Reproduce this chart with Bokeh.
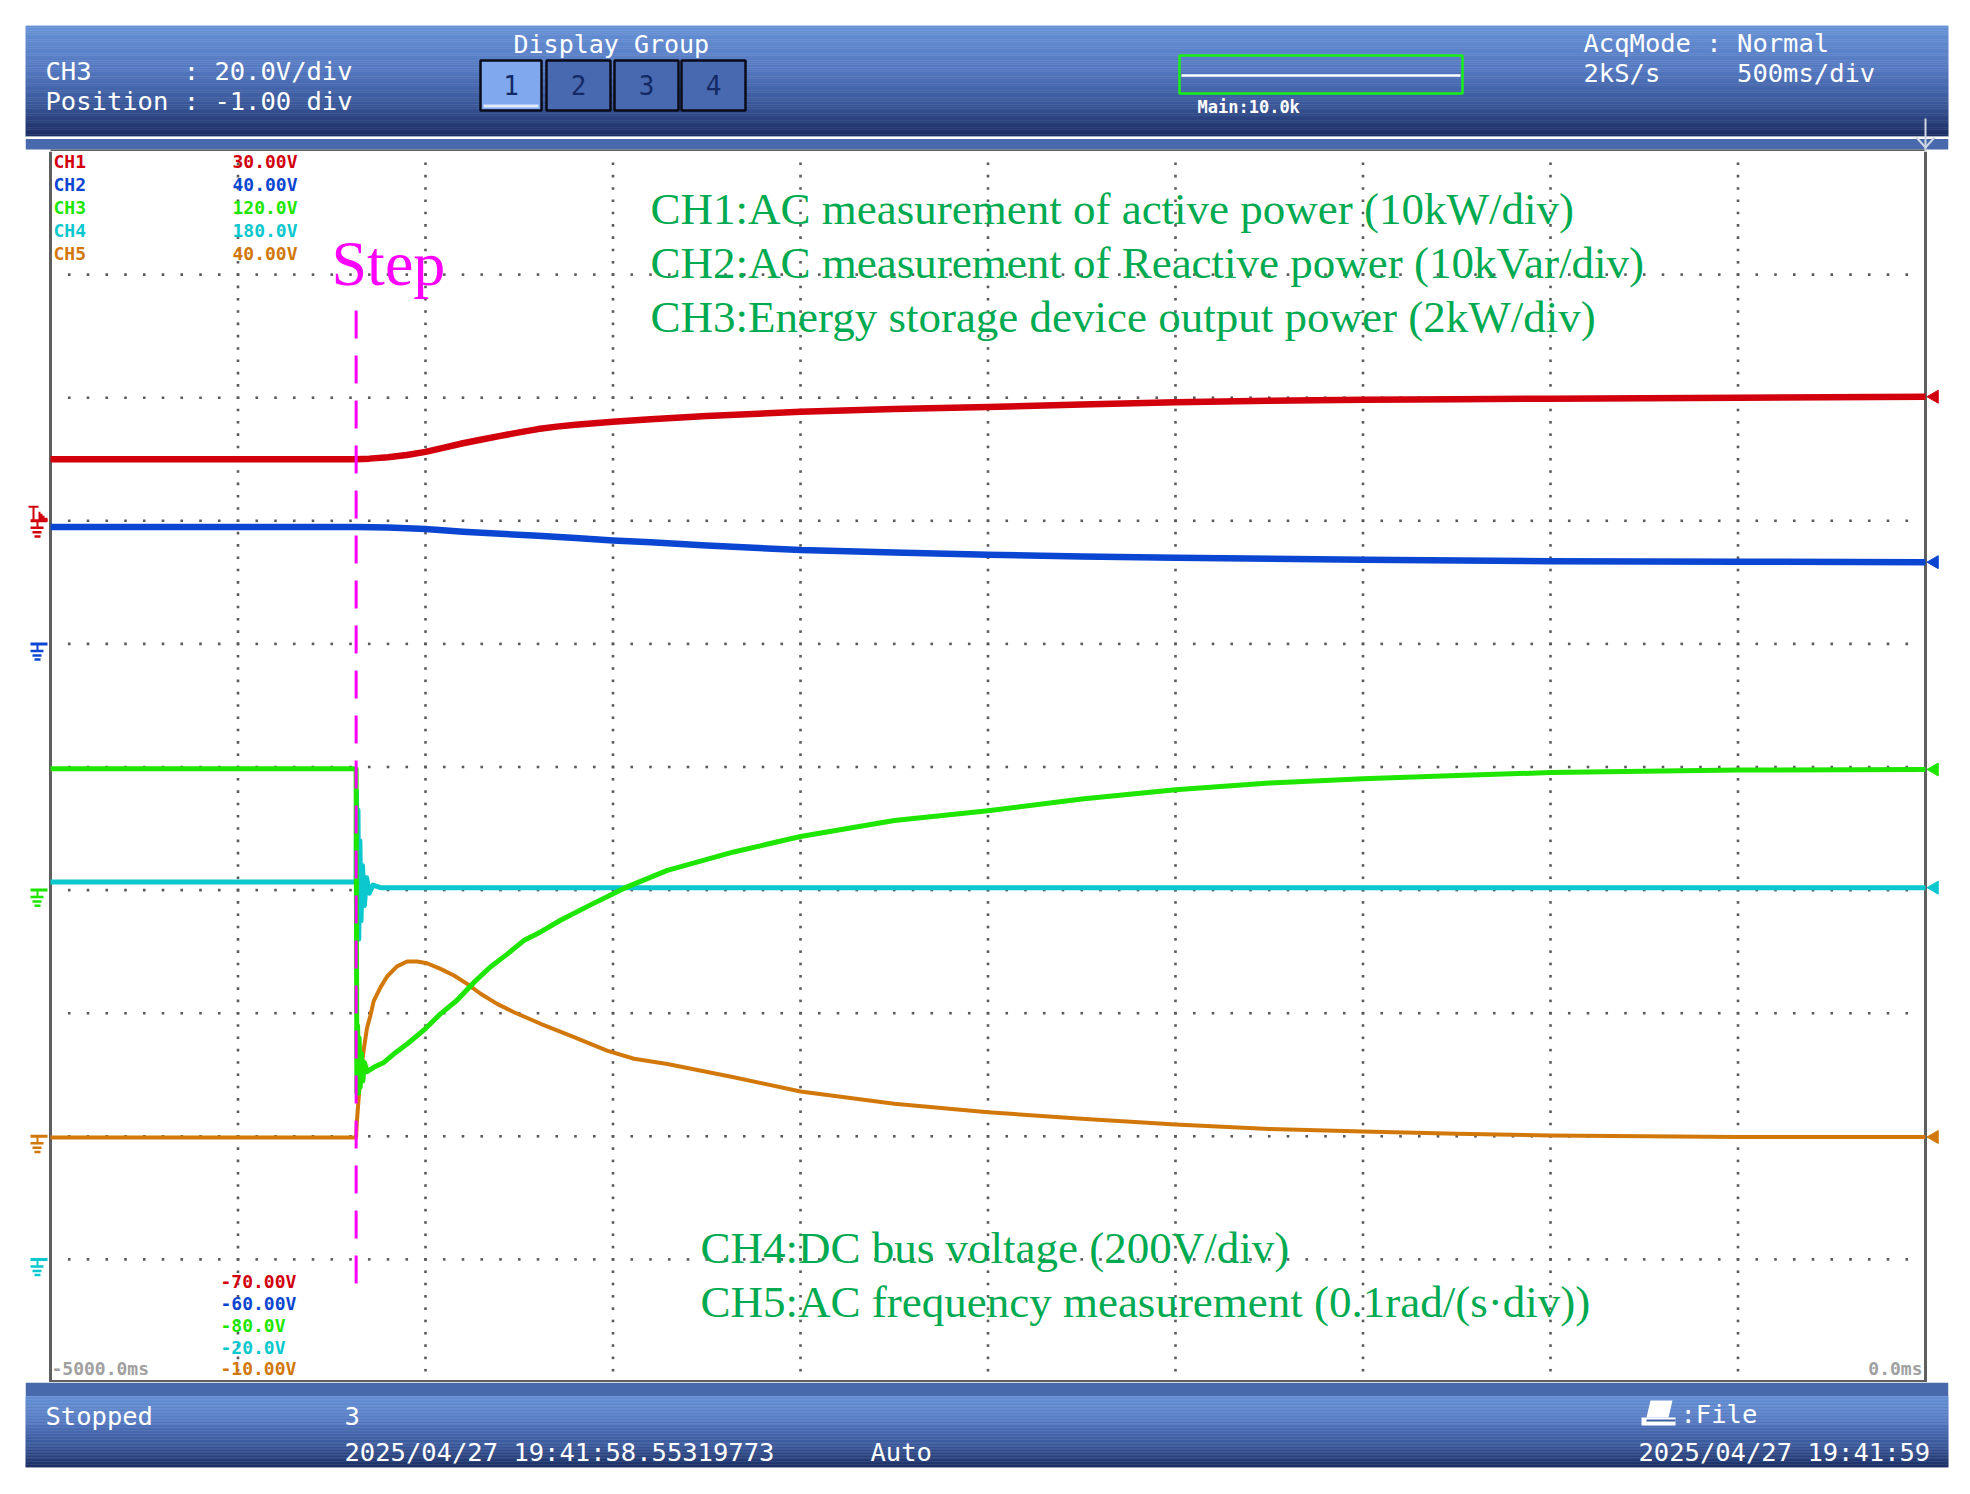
import numpy as np
from bokeh.plotting import figure
from bokeh.models import Range1d
from bokeh.layouts import column
from bokeh.core.properties import value
from bokeh.embed import file_html
from bokeh.resources import INLINE

# ---------------- data ----------------
t_start, t_end = -5000, 0          # ms (500 ms/div)
step_time = -4185                  # ms

ch_names = ["CH1", "CH2", "CH3", "CH4", "CH5"]
ch_colors = ["#d2000c", "#0a46d2", "#1ee600", "#0ac8cd", "#d2780a"]
ch_top_labels = ["30.00V", "40.00V", "120.0V", "180.0V", "40.00V"]
ch_bottom_labels = ["-70.00V", "-60.00V", "-80.0V", "-20.0V", "-10.00V"]
ch_lo = [-70, -60, -80, -20, -10]
ch_hi = [30, 40, 120, 180, 40]

ch1_t = [-5000, -4185, -4150, -4100, -4050, -4000, -3950, -3900, -3850, -3800, -3750, -3700,
         -3650, -3600, -3500, -3400, -3250, -3000, -2750, -2500, -2250, -2000, -1750, -1500,
         -1250, -1000, -500, 0]
ch1_v = [5.0, 5.0, 5.05, 5.17, 5.35, 5.6, 5.95, 6.3, 6.6, 6.9, 7.18, 7.45,
         7.65, 7.8, 8.05, 8.25, 8.52, 8.85, 9.08, 9.25, 9.45, 9.63, 9.75, 9.83,
         9.88, 9.92, 9.99, 10.08]

ch2_t = [-5000, -4185, -4100, -4000, -3900, -3800, -3700, -3600, -3500, -3400, -3250, -3000,
         -2750, -2500, -2250, -2000, -1500, -1000, -500, 0]
ch2_v = [9.5, 9.5, 9.45, 9.33, 9.12, 8.95, 8.78, 8.6, 8.4, 8.25, 8.0, 7.62,
         7.42, 7.24, 7.1, 6.99, 6.83, 6.72, 6.68, 6.64]

ch3_t = [-5000, -4185, -4183, -4181, -4179, -4177, -4174, -4171, -4167, -4163, -4156, -4138,
         -4111, -4084, -4049, -4000, -3960, -3916, -3871, -3827, -3782, -3738, -3693, -3640,
         -3560, -3467, -3355, -3178, -3000, -2750, -2500, -2250, -2000, -1750, -1500, -1250,
         -1000, -500, 0]
ch3_v = [19.7, 19.7, -33, -22, -33, -24, -32, -26.5, -31, -28, -29.5, -28.8,
         -28.0, -26.6, -25.0, -22.5, -20.1, -17.9, -15.0, -12.5, -10.4, -8.2, -6.8, -4.9,
         -2.4, 0.4, 3.2, 6.2, 8.7, 11.3, 12.9, 14.8, 16.3, 17.4, 18.1, 18.6,
         19.1, 19.5, 19.6]

ch4_t = [-5000, -4185, -4184, -4182, -4180, -4178, -4175, -4172, -4168, -4163, -4157, -4150,
         -4140, -4120, -2000, 0]
ch4_v = [61.3, 61.3, 76, 53, 73, 52, 68, 55, 64, 57.5, 62, 59.5,
         60.8, 60.4, 60.4, 60.4]

ch5_t = [-5000, -4185, -4183, -4180, -4176, -4170, -4164, -4156, -4147, -4138, -4120, -4102,
         -4076, -4049, -4022, -3996, -3960, -3924, -3889, -3853, -3809, -3764, -3693, -3604,
         -3516, -3444, -3355, -3178, -3000, -2750, -2500, -2250, -2000, -1750, -1500, -1250,
         -1000, -500, 0]
ch5_v = [-0.05, -0.05, 0.6, 1.2, 2.0, 2.9, 3.6, 4.4, 4.9, 5.5, 6.05, 6.5,
         6.9, 7.1, 7.1, 7.03, 6.8, 6.53, 6.19, 5.79, 5.38, 5.04, 4.57, 4.03,
         3.48, 3.15, 2.94, 2.4, 1.82, 1.32, 0.98, 0.71, 0.48, 0.3, 0.2, 0.1,
         0.03, -0.03, -0.03]

ch_t = [ch1_t, ch2_t, ch3_t, ch4_t, ch5_t]
ch_v = [ch1_v, ch2_v, ch3_v, ch4_v, ch5_v]

annot_top = ["CH1:AC measurement of active power (10kW/div)",
             "CH2:AC measurement of Reactive power (10kVar/div)",
             "CH3:Energy storage device output power (2kW/div)"]
annot_bottom = ["CH4:DC bus voltage (200V/div)",
                "CH5:AC frequency measurement (0.1rad/(s\u00b7div))"]

hdr_left = ["CH3      : 20.0V/div", "Position : -1.00 div"]
hdr_right = ["AcqMode : Normal", "2kS/s     500ms/div"]
ftr_status = "Stopped"
ftr_count = "3"
ftr_trig_time = "2025/04/27 19:41:58.55319773"
ftr_mode = "Auto"
ftr_file = ":File"
ftr_now = "2025/04/27 19:41:59"

# ---------------- styling helpers ----------------
MONO = "DejaVu Sans Mono"
SERIF = "Liberation Serif"
PX_PER_MS = 0.375
PX_PER_DIV = 123.1
K_BASE = 0.38   # baseline correction (fraction of font size)


def X(px):
    return t_start + (px - 50) / PX_PER_MS


def Y(py):
    return (766.5 - py) / PX_PER_DIV


def txt(fig, x, y, s, color, size, font=MONO, align="left", baseline="alphabetic",
        style="normal", ydiv=False):
    fs = float(size.replace("px", ""))
    if baseline == "alphabetic":
        y = y + K_BASE * fs / PX_PER_DIV if ydiv else y - K_BASE * fs
    if font == MONO:
        s = s.replace(" ", "\u00a0")
    fig.text(x=[x], y=[y], text=[s], text_color=color, text_font=value(font),
             text_font_size=size, text_align=align, text_baseline=baseline,
             text_font_style=style)


def blank(fig):
    fig.outline_line_color = None
    fig.background_fill_color = "white"
    fig.border_fill_color = "white"


def gradient(fig, x0, x1, y0, y1, stops, n=48):
    pos = np.array([s[0] for s in stops])
    cols = np.array([s[1] for s in stops], dtype=float)
    edges = np.linspace(y0, y1, n + 1)
    colors = []
    for k in range(n):
        fr = (k + 0.5) / n
        c = [np.interp(fr, pos, cols[:, j]) for j in range(3)]
        colors.append("#%02x%02x%02x" % tuple(int(round(v)) for v in c))
    fig.quad(left=[x0] * n, right=[x1] * n, top=list(edges[:-1]), bottom=list(edges[1:]),
             fill_color=colors, line_color=colors, line_width=0.5)


# ---------------- header ----------------
h = figure(width=1958, height=151, x_range=Range1d(0, 1923), y_range=Range1d(126, 0),
           output_backend="svg", toolbar_location=None, x_axis_type=None, y_axis_type=None,
           min_border_left=25, min_border_right=10, min_border_top=25, min_border_bottom=0)
blank(h)
gradient(h, 0, 1923, 0, 111, [(0.0, (104, 146, 214)), (0.4, (84, 120, 192)),
                              (0.72, (56, 86, 152)), (1.0, (28, 44, 98))])
h.quad(left=[0], right=[1923], top=[111], bottom=[113.5], fill_color="white", line_color=None)
h.quad(left=[0], right=[1923], top=[113.5], bottom=[124], fill_color="#486aac", line_color=None)
h.quad(left=[25], right=[1900], top=[124], bottom=[126], fill_color="#5f5f5f", line_color=None)

txt(h, 20, 55, hdr_left[0], "white", "25.5px")
txt(h, 20, 85, hdr_left[1], "white", "25.5px")
txt(h, 488, 28, "Display Group", "white", "25px")
btn_l = [455, 521, 589, 656]
btn_r = [516, 585, 653, 720]
btn_fill = ["#80a8ee", "#4869b0", "#4869b0", "#4869b0"]
h.quad(left=btn_l, right=btn_r, top=[35] * 4, bottom=[85] * 4, fill_color=btn_fill,
       line_color="#0a0a18", line_width=2.5)
h.quad(left=[458], right=[513], top=[79], bottom=[82], fill_color="#dfe9ff", line_color=None)
for k, (a, b) in enumerate(zip(btn_l, btn_r)):
    txt(h, (a + b) / 2, 59, str(k + 1), "#132a66", "26px", align="center", baseline="middle")
h.quad(left=[1154], right=[1437], top=[30], bottom=[68], fill_color=None,
       line_color="#18f018", line_width=2.5)
h.segment(x0=[1156], x1=[1435], y0=[50], y1=[50], line_color="white", line_width=2.5)
txt(h, 1172, 88, "Main:10.0k", "white", "17px", style="bold")
txt(h, 1558, 27, hdr_right[0], "white", "25.5px")
txt(h, 1558, 57, hdr_right[1], "white", "25.5px")
h.segment(x0=[1900], x1=[1900], y0=[93], y1=[126], line_color="#cfd6e4", line_width=2)
h.line(x=[1891, 1900, 1909], y=[112, 122, 112], line_color="#cfd6e4", line_width=2)

# ---------------- main screen ----------------
p = figure(width=1958, height=1231, x_range=Range1d(X(25), X(1948)), y_range=Range1d(-5, 5),
           output_backend="svg", toolbar_location=None, x_axis_type=None, y_axis_type=None,
           min_border_left=25, min_border_right=10, min_border_top=0, min_border_bottom=0)
blank(p)
p.extra_y_ranges = {n: Range1d(lo, hi) for n, lo, hi in zip(ch_names, ch_lo, ch_hi)}

# dotted graticule
gx, gy = [], []
for k in range(1, 10):
    for j in range(1, 100):
        gx.append(t_start + k * 500)
        gy.append(-5 + j * 0.1)
for k in range(1, 10):
    for j in range(1, 100):
        gx.append(t_start + j * 50)
        gy.append(-5 + k)
p.scatter(gx, gy, marker="square", size=2.6, fill_color="#5a5a5a", line_color=None)

# frame
p.segment(x0=[t_start, t_end], x1=[t_start, t_end], y0=[-5, -5], y1=[5, 5],
          line_color="#5f5f5f", line_width=3)
p.segment(x0=[t_start], x1=[t_end], y0=[-5], y1=[-5], line_color="#5f5f5f", line_width=5)

# traces (CH1 on top)
widths = [6.5, 6.5, 5, 5, 4]
for i in [4, 3, 2, 1, 0]:
    p.line(ch_t[i], ch_v[i], y_range_name=ch_names[i], line_color=ch_colors[i],
           line_width=widths[i], line_join="round")
    p.scatter(x=[X(1934)], y=[ch_v[i][-1]], y_range_name=ch_names[i], marker="triangle",
              angle=np.pi / 2, size=13, fill_color=ch_colors[i], line_color=ch_colors[i])

# ground markers
for i in range(5):
    g = -5 + (0 - ch_lo[i]) / (ch_hi[i] - ch_lo[i]) * 10
    bars = [(30, 47, 0, 3), (30, 43, 7, 2.5), (32, 41, 11.5, 2.5), (34, 40, 15.7, 2.5)]
    for a, b, off, w in bars:
        yy = g - off / PX_PER_DIV
        p.segment(x0=[X(a)], x1=[X(b)], y0=[yy], y1=[yy], line_color=ch_colors[i], line_width=w)
    p.segment(x0=[X(37)], x1=[X(37)], y0=[g], y1=[g - 7 / PX_PER_DIV], line_color=ch_colors[i],
              line_width=2)
# trigger mark on CH1
g1 = -5 + (0 - ch_lo[0]) / (ch_hi[0] - ch_lo[0]) * 10
p.segment(x0=[X(28)], x1=[X(38)], y0=[g1 + 14 / PX_PER_DIV], y1=[g1 + 14 / PX_PER_DIV],
          line_color=ch_colors[0], line_width=2)
p.segment(x0=[X(33)], x1=[X(33)], y0=[g1 + 14 / PX_PER_DIV], y1=[g1], line_color=ch_colors[0],
          line_width=2)
sx = [38, 40, 40, 42, 42, 44, 44, 47, 47, 38]
sy = [9, 9, 7, 7, 5, 5, 3, 3, 0, 0]
p.patch(x=[X(v) for v in sx], y=[g1 + v / PX_PER_DIV for v in sy], fill_color=ch_colors[0],
        line_color=None)

# channel scale labels
for i in range(5):
    txt(p, X(53), Y(168 + 23 * i), ch_names[i], ch_colors[i], "18px", style="bold", ydiv=True)
    txt(p, X(297), Y(168 + 23 * i), ch_top_labels[i], ch_colors[i], "18px", align="right",
        style="bold", ydiv=True)
    txt(p, X(220), Y(1288 + 21.8 * i), ch_bottom_labels[i], ch_colors[i], "18px",
        style="bold", ydiv=True)
txt(p, X(51), Y(1375), "-5000.0ms", "#a0a0a0", "18px", style="bold", ydiv=True)
txt(p, X(1922), Y(1375), "0.0ms", "#a0a0a0", "18px", align="right", style="bold", ydiv=True)

# step marker
p.segment(x0=[step_time], x1=[step_time], y0=[Y(310)], y1=[Y(1284)], line_color="#ff00ff",
          line_width=3, line_dash="28 17")
txt(p, X(331), Y(287), "Step", "#ff00ff", "64px", font=SERIF, ydiv=True)

# annotations
for k, s in enumerate(annot_top):
    txt(p, X(650), Y(226 + 54 * k), s, "#00aa50", "45px", font=SERIF, ydiv=True)
for k, s in enumerate(annot_bottom):
    txt(p, X(700), Y(1265 + 54 * k), s, "#00aa50", "45px", font=SERIF, ydiv=True)

# ---------------- footer ----------------
f = figure(width=1958, height=102, x_range=Range1d(0, 1923), y_range=Range1d(85, 0),
           output_backend="svg", toolbar_location=None, x_axis_type=None, y_axis_type=None,
           min_border_left=25, min_border_right=10, min_border_top=0, min_border_bottom=17)
blank(f)
f.quad(left=[0], right=[1923], top=[0], bottom=[14], fill_color="#486aac", line_color=None)
gradient(f, 0, 1923, 14, 85, [(0.0, (102, 144, 214)), (0.35, (84, 120, 192)),
                              (0.7, (56, 86, 152)), (1.0, (28, 46, 100))])
txt(f, 20, 43, ftr_status, "white", "25.5px")
txt(f, 319, 43, ftr_count, "white", "25.5px")
txt(f, 319, 79, ftr_trig_time, "white", "25.5px")
txt(f, 845, 79, ftr_mode, "white", "25.5px")
# printer icon
f.patch(x=[1625, 1647, 1643, 1621], y=[18, 18, 35, 35], fill_color="white", line_color=None)
f.quad(left=[1616], right=[1650], top=[35], bottom=[43], fill_color="white", line_color=None)
f.quad(left=[1621], right=[1650], top=[37], bottom=[39], fill_color="#3f5fa4", line_color=None)
txt(f, 1655, 41, ftr_file, "white", "25.5px")
txt(f, 1613, 79, ftr_now, "white", "25.5px")

layout = column(h, p, f)
open("out.html", "w").write(file_html(layout, INLINE))
